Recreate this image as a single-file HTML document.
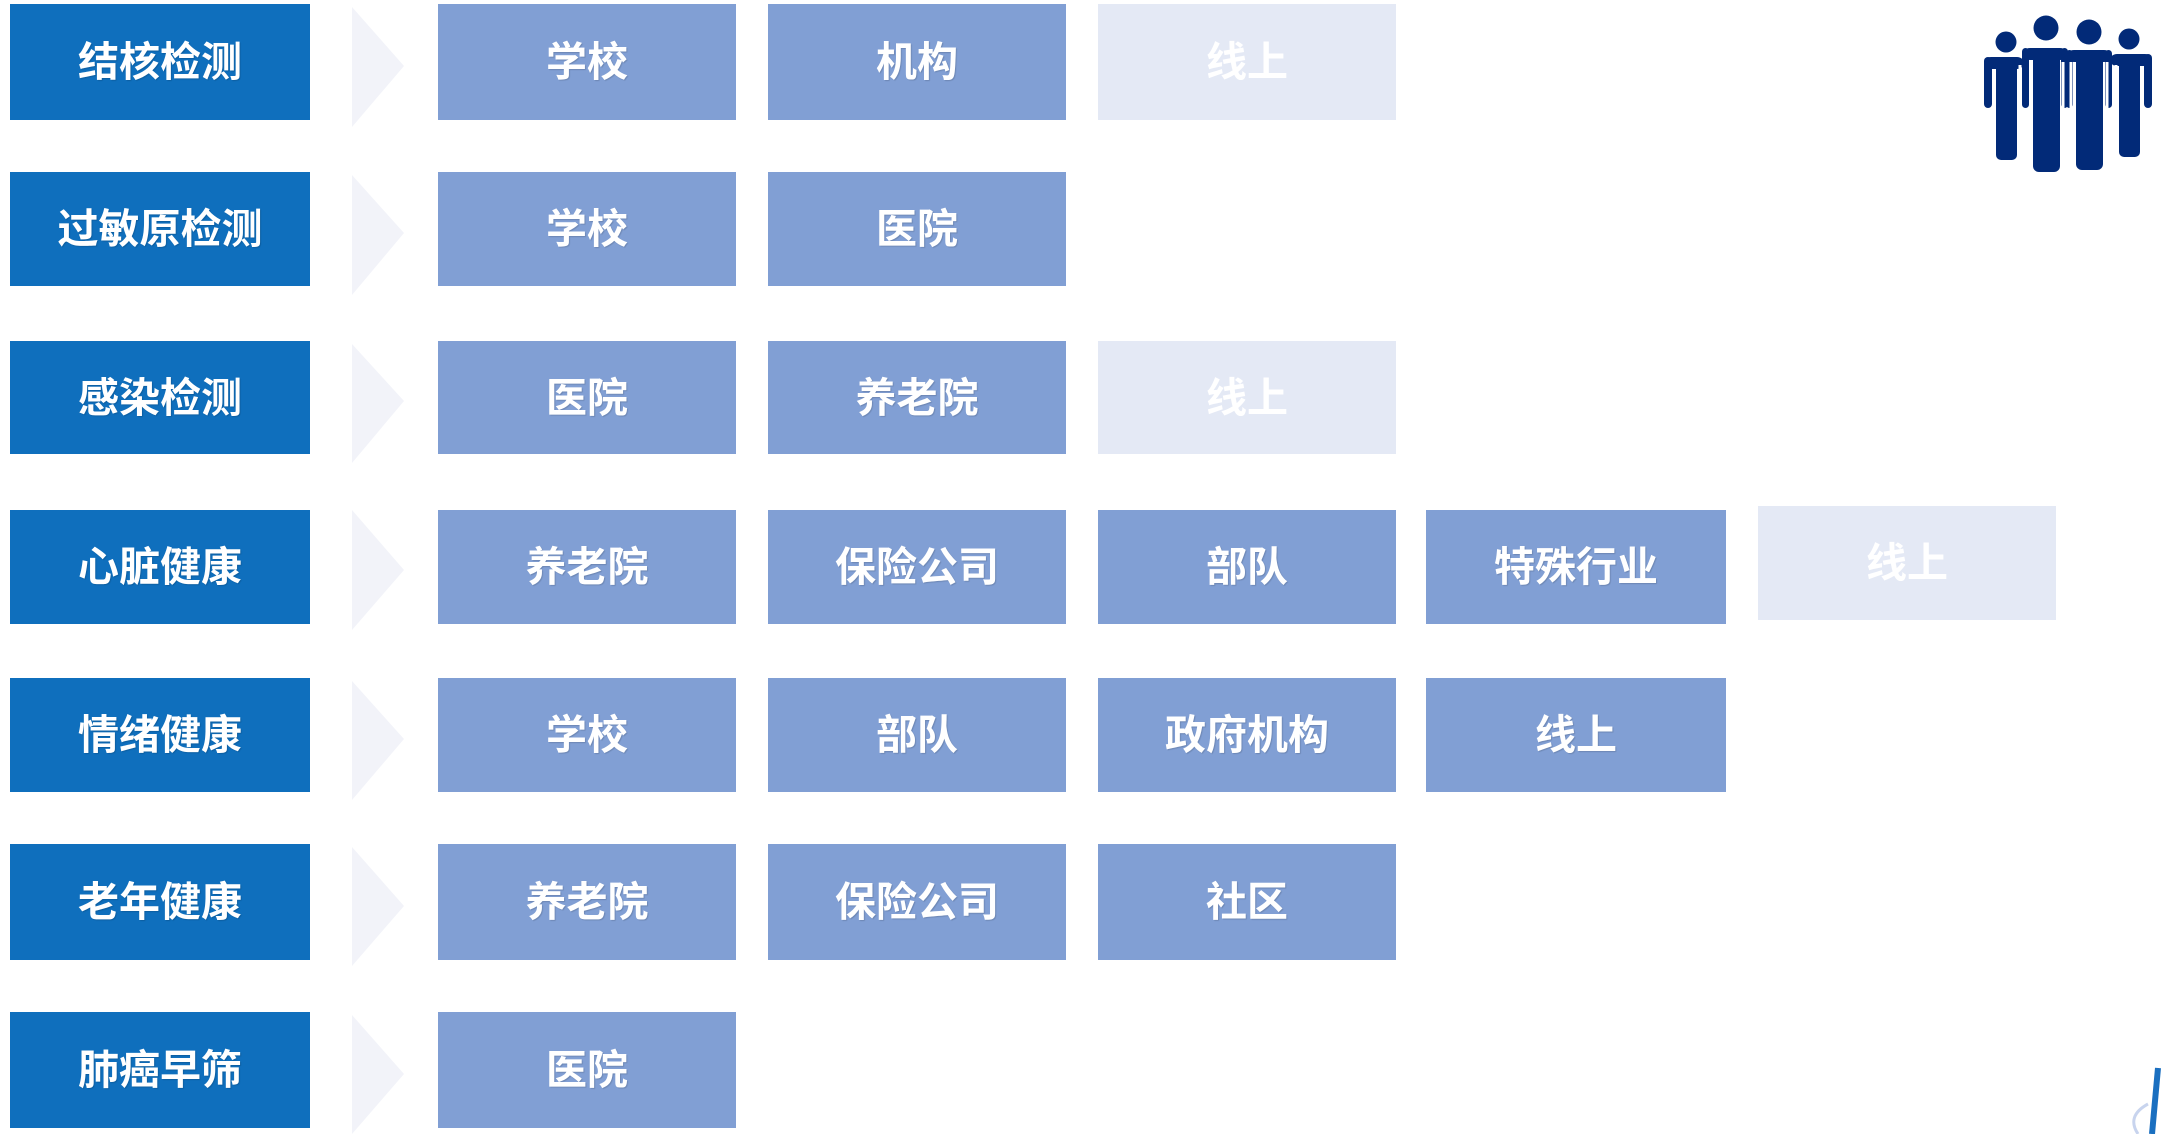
<!DOCTYPE html>
<html><head><meta charset="utf-8">
<style>
html,body{margin:0;padding:0;background:#fff;}
body{width:2162px;height:1134px;position:relative;overflow:hidden;font-family:"Liberation Sans","Noto Sans CJK SC",sans-serif;}
.b{position:absolute;display:flex;align-items:center;justify-content:center;color:#fff;font-weight:bold;font-size:41px;text-shadow:1px 1px 1px rgba(0,0,0,0.15);box-sizing:border-box;padding-bottom:8px;}
.k{background:#0f6fbd;}
.m{background:#819fd4;}
.p{background:#e4e9f5;text-shadow:none;}
.c{position:absolute;}
</style></head><body>
<svg class="c" style="left:0;top:0" width="2162" height="1134">
<g fill="#f2f3f9">
<polygon points="352,7 404,66 352,127"/>
<polygon points="352,175 404,233 352,295"/>
<polygon points="352,344 404,401 352,463"/>
<polygon points="352,510 404,570 352,630"/>
<polygon points="352,681 404,739 352,800"/>
<polygon points="352,847 404,906 352,966"/>
<polygon points="352,1015 404,1074 352,1134"/>
</g>
<g fill="#022a78">
<circle cx="2006" cy="42" r="10.5"/>
<circle cx="2046" cy="28" r="12.5"/>
<circle cx="2089" cy="32" r="12.5"/>
<circle cx="2129" cy="39" r="10.5"/>
<!-- person 1 -->
<rect x="1984" y="57" width="40" height="12" rx="7"/>
<rect x="1984" y="57" width="8" height="51" rx="4"/>
<rect x="1996" y="57" width="21" height="103" rx="5"/>
<!-- person 4 -->
<rect x="2110" y="54" width="42" height="12" rx="7"/>
<rect x="2144" y="54" width="8" height="54" rx="4"/>
<rect x="2119" y="54" width="21" height="103" rx="5"/>
<!-- person 2 -->
<rect x="2022" y="48" width="46" height="12" rx="8"/>
<rect x="2022" y="48" width="7" height="60" rx="3.5"/>
<rect x="2061" y="48" width="7" height="60" rx="3.5"/>
<rect x="2033" y="48" width="27" height="124" rx="6"/>
<!-- person 3 -->
<rect x="2066" y="50" width="46" height="12" rx="8"/>
<rect x="2066" y="50" width="7" height="58" rx="3.5"/>
<rect x="2105" y="50" width="7" height="58" rx="3.5"/>
<rect x="2076" y="50" width="27" height="120" rx="6"/>
</g>
<g stroke="#fff" stroke-width="3">
<line x1="2020" y1="65" x2="2020" y2="110"/>
<line x1="2063" y1="62" x2="2063" y2="110"/>
<line x1="2071" y1="62" x2="2071" y2="110"/>
<line x1="2107" y1="62" x2="2107" y2="110"/>
<line x1="2116" y1="65" x2="2116" y2="110"/>
<line x1="2031" y1="60" x2="2031" y2="110"/>
</g>
<line x1="2158" y1="1068" x2="2152" y2="1134" stroke="#1a6fc0" stroke-width="6"/>
<path d="M2148,1104 q-22,12 -10,30" fill="none" stroke="#c8d4ee" stroke-width="3"/>
</svg>

<div class="b k" style="left:10px;top:4px;width:300px;height:116px">结核检测</div>
<div class="b m" style="left:438px;top:4px;width:298px;height:116px">学校</div>
<div class="b m" style="left:768px;top:4px;width:298px;height:116px">机构</div>
<div class="b p" style="left:1098px;top:4px;width:298px;height:116px">线上</div>

<div class="b k" style="left:10px;top:172px;width:300px;height:114px">过敏原检测</div>
<div class="b m" style="left:438px;top:172px;width:298px;height:114px">学校</div>
<div class="b m" style="left:768px;top:172px;width:298px;height:114px">医院</div>

<div class="b k" style="left:10px;top:341px;width:300px;height:113px">感染检测</div>
<div class="b m" style="left:438px;top:341px;width:298px;height:113px">医院</div>
<div class="b m" style="left:768px;top:341px;width:298px;height:113px">养老院</div>
<div class="b p" style="left:1098px;top:341px;width:298px;height:113px">线上</div>

<div class="b k" style="left:10px;top:510px;width:300px;height:114px">心脏健康</div>
<div class="b m" style="left:438px;top:510px;width:298px;height:114px">养老院</div>
<div class="b m" style="left:768px;top:510px;width:298px;height:114px">保险公司</div>
<div class="b m" style="left:1098px;top:510px;width:298px;height:114px">部队</div>
<div class="b m" style="left:1426px;top:510px;width:300px;height:114px">特殊行业</div>
<div class="b p" style="left:1758px;top:506px;width:298px;height:114px">线上</div>

<div class="b k" style="left:10px;top:678px;width:300px;height:114px">情绪健康</div>
<div class="b m" style="left:438px;top:678px;width:298px;height:114px">学校</div>
<div class="b m" style="left:768px;top:678px;width:298px;height:114px">部队</div>
<div class="b m" style="left:1098px;top:678px;width:298px;height:114px">政府机构</div>
<div class="b m" style="left:1426px;top:678px;width:300px;height:114px">线上</div>

<div class="b k" style="left:10px;top:844px;width:300px;height:116px">老年健康</div>
<div class="b m" style="left:438px;top:844px;width:298px;height:116px">养老院</div>
<div class="b m" style="left:768px;top:844px;width:298px;height:116px">保险公司</div>
<div class="b m" style="left:1098px;top:844px;width:298px;height:116px">社区</div>

<div class="b k" style="left:10px;top:1012px;width:300px;height:116px">肺癌早筛</div>
<div class="b m" style="left:438px;top:1012px;width:298px;height:116px">医院</div>
</body></html>
